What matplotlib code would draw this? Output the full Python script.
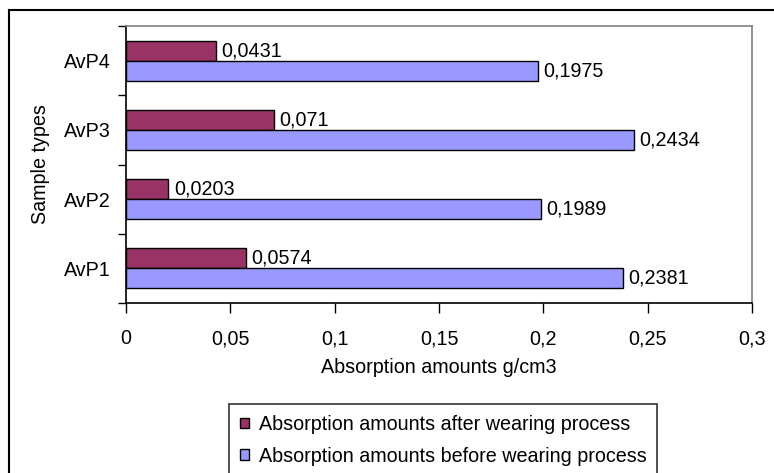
import matplotlib
matplotlib.use("Agg")
import matplotlib.pyplot as plt
from matplotlib.lines import Line2D
import numpy as np

categories = ["AvP1", "AvP2", "AvP3", "AvP4"]
after_vals = [0.0574, 0.0203, 0.071, 0.0431]
before_vals = [0.2381, 0.1989, 0.2434, 0.1975]
series_names = ["Absorption amounts after wearing process",
                "Absorption amounts before wearing process"]
xticks = [0, 0.05, 0.1, 0.15, 0.2, 0.25, 0.3]
xtick_labels = ["0", "0,05", "0,1", "0,15", "0,2", "0,25", "0,3"]

plt.rcParams['font.family'] = ['Liberation Sans', 'DejaVu Sans']
FS = 14.2

W, H = 774, 473
fig = plt.figure(figsize=(W / 100, H / 100), dpi=100)

# outer chart border (left and top visible)
fig.add_artist(Line2D([9 / W, 9 / W], [0, 1 - 10 / H], transform=fig.transFigure, color='black', lw=1.5))
fig.add_artist(Line2D([9 / W, 1], [1 - 10 / H, 1 - 10 / H], transform=fig.transFigure, color='black', lw=1.5))

ax = fig.add_axes([126 / W, 1 - 303 / H, (752 - 126) / W, (303 - 26) / H])

y = np.arange(len(categories))
h = 0.29
c_after = '#993366'
c_before = '#9999FF'
b1 = ax.barh(y + h / 2, after_vals, height=h, color=c_after, edgecolor='black', linewidth=1.0, label=series_names[0])
b2 = ax.barh(y - h / 2, before_vals, height=h, color=c_before, edgecolor='black', linewidth=1.0, label=series_names[1])

for bars, vals in ((b1, after_vals), (b2, before_vals)):
    for rect, v in zip(bars, vals):
        ax.annotate(str(v).replace('.', ','), (v, rect.get_y() + rect.get_height() / 2),
                    xytext=(4, 0), textcoords='offset points', va='center', ha='left', fontsize=FS)

ax.set_xlim(0, 0.3)
ax.set_ylim(-0.5, 3.5)
ax.set_xticks(xticks)
ax.set_xticklabels(xtick_labels, fontsize=FS)
ax.set_yticks(y)
ax.set_yticklabels(categories, fontsize=FS)
ax.set_yticks(np.arange(-0.5, 3.6, 1.0), minor=True)
ax.tick_params(axis='y', which='major', length=0, pad=11)
ax.tick_params(axis='y', which='minor', length=6, width=1, color='black', direction='out')
ax.tick_params(axis='x', which='major', length=7, width=1, direction='out', pad=12)

for s in ('top', 'right'):
    ax.spines[s].set_color('#808080')
    ax.spines[s].set_linewidth(1.2)
for s in ('left', 'bottom'):
    ax.spines[s].set_color('black')
    ax.spines[s].set_linewidth(1.2)

ax.set_xlabel("Absorption amounts g/cm3", fontsize=FS)
ax.set_ylabel("Sample types", fontsize=FS)
ax.yaxis.set_label_coords(-(126 - 40) / (752 - 126), 0.5)
ax.xaxis.set_label_coords(0.5, -(367 - 303) / (303 - 26))
ax.xaxis.label.set_va('center')
ax.yaxis.label.set_va('center')

leg = fig.legend(handles=[b1, b2], loc='upper left',
                 bbox_to_anchor=(229 / W, 1 - 404 / H), bbox_transform=fig.transFigure,
                 fontsize=FS, frameon=True, fancybox=False, handlelength=0.45, handleheight=0.45,
                 handletextpad=0.5, borderpad=0.55, labelspacing=0.65, borderaxespad=0)
leg.get_frame().set_edgecolor('black')
leg.get_frame().set_linewidth(1.2)

fig.savefig("out.png", dpi=100)
